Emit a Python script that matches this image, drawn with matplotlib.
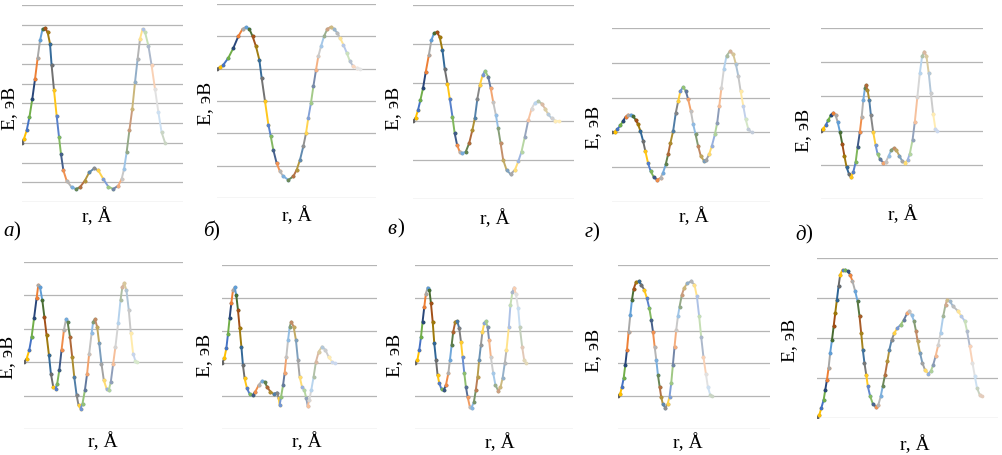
import numpy as np
import matplotlib
matplotlib.use('Agg')
import matplotlib.pyplot as plt
from matplotlib.colors import to_rgb

plt.rcParams['font.family'] = ['Liberation Serif', 'DejaVu Serif']

# energy profiles E(r), one per panel (r in A, E in eV)
r_a = [0, 0.12, 0.29, 0.46, 0.64, 0.81, 0.97, 1.12, 1.28, 1.43, 1.59, 1.74, 1.84, 1.99, 2.15, 2.30,
       2.42, 2.57, 2.77, 3.08, 3.35, 3.60, 3.91, 4.18, 4.49, 4.74, 5.05, 5.36, 5.67, 5.98, 6.19, 6.34,
       6.50, 6.67, 6.85, 7.02, 7.18, 7.33, 7.49, 7.64, 7.85, 8.05, 8.26, 8.47, 8.67, 8.88]
E_a = [0, 0.2, 0.63, 1.3, 2.23, 3.25, 4.3, 5.2, 5.79, 5.82, 5.62, 5.03, 3.93, 2.66, 1.39, 0.29,
       -0.56, -1.4, -1.91, -2.25, -2.34, -2.25, -1.91, -1.49, -1.29, -1.4, -1.83, -2.22, -2.34, -2.17, -1.83, -1.32,
       -0.47, 0.63, 1.73, 3.08, 4.26, 5.28, 5.79, 5.62, 4.94, 3.93, 2.74, 1.56, 0.54, 0.02]

r_b = [0, 0.19, 0.40, 0.71, 1.03, 1.34, 1.61, 1.82, 2.03, 2.24, 2.45, 2.66, 2.81, 3.02, 3.23, 3.38,
       3.54, 3.75, 3.96, 4.17, 4.49, 4.80, 5.01, 5.22, 5.43, 5.60, 5.74, 5.91, 6.06, 6.23, 6.37, 6.54,
       6.73, 6.94, 7.15, 7.36, 7.57, 7.74, 7.95, 8.16, 8.36, 8.57, 8.78, 8.99]
E_b = [0, 0.04, 0.12, 0.33, 0.64, 1.0, 1.23, 1.29, 1.23, 1.0, 0.69, 0.28, -0.29, -1.01, -1.73, -2.09,
       -2.51, -2.92, -3.18, -3.33, -3.44, -3.33, -3.13, -2.82, -2.40, -1.99, -1.53, -1.06, -0.55, -0.03, 0.38, 0.69,
       1.0, 1.23, 1.29, 1.23, 1.10, 0.95, 0.74, 0.49, 0.23, 0.07, 0.02, 0]

r_v = [0, 0.17, 0.31, 0.46, 0.62, 0.79, 0.98, 1.14, 1.31, 1.49, 1.66, 1.83, 1.97, 2.14, 2.28, 2.45,
       2.59, 2.74, 2.90, 3.07, 3.28, 3.49, 3.69, 3.84, 4.00, 4.15, 4.32, 4.48, 4.67, 4.83, 4.98, 5.15,
       5.29, 5.44, 5.60, 5.81, 6.06, 6.33, 6.54, 6.74, 6.95, 7.16, 7.37, 7.57, 7.78, 7.99, 8.20, 8.40,
       8.61, 8.82, 9.09]
E_v = [0, 0.10, 0.29, 0.55, 0.85, 1.27, 1.70, 2.09, 2.28, 2.30, 2.17, 1.83, 1.36, 0.97, 0.59, 0.12,
       -0.31, -0.61, -0.78, -0.82, -0.78, -0.56, -0.22, 0.08, 0.59, 0.93, 1.19, 1.30, 1.15, 0.85, 0.50, 0.16,
       -0.18, -0.56, -0.99, -1.25, -1.36, -1.25, -1.03, -0.78, -0.39, 0.03, 0.33, 0.48, 0.52, 0.46, 0.33, 0.18,
       0.08, 0.02, 0]

r_g = [0, 0.17, 0.34, 0.53, 0.70, 0.87, 1.01, 1.18, 1.33, 1.50, 1.65, 1.80, 1.97, 2.11, 2.28, 2.45,
       2.64, 2.85, 3.07, 3.23, 3.40, 3.55, 3.70, 3.87, 4.04, 4.19, 4.33, 4.50, 4.67, 4.82, 4.99, 5.14,
       5.29, 5.45, 5.62, 5.81, 5.98, 6.15, 6.32, 6.51, 6.66, 6.79, 6.93, 7.08, 7.25, 7.46, 7.67, 7.84,
       7.99, 8.14, 8.31, 8.46, 8.63, 8.84]
E_g = [0, 0.02, 0.09, 0.20, 0.33, 0.45, 0.51, 0.51, 0.47, 0.36, 0.23, 0.04, -0.25, -0.54, -0.88, -1.12,
       -1.28, -1.36, -1.31, -1.16, -0.92, -0.63, -0.30, 0.04, 0.57, 0.90, 1.19, 1.30, 1.19, 0.95, 0.62, 0.23,
       -0.06, -0.39, -0.68, -0.81, -0.78, -0.63, -0.39, -0.06, 0.28, 0.76, 1.29, 1.82, 2.20, 2.33, 2.25, 1.96,
       1.63, 1.19, 0.76, 0.38, 0.09, 0]

r_d = [0, 0.14, 0.29, 0.45, 0.60, 0.76, 0.90, 1.03, 1.17, 1.31, 1.44, 1.58, 1.72, 1.85, 1.99, 2.14,
       2.26, 2.40, 2.51, 2.61, 2.71, 2.77, 2.87, 2.98, 3.08, 3.22, 3.37, 3.49, 3.63, 3.84, 4.00, 4.19,
       4.35, 4.50, 4.66, 4.83, 5.01, 5.17, 5.34, 5.48, 5.65, 5.79, 5.95, 6.10, 6.24, 6.37, 6.51, 6.65,
       6.78, 6.92, 7.06, 7.17]
E_d = [0, 0.06, 0.16, 0.30, 0.45, 0.52, 0.45, 0.25, -0.04, -0.38, -0.73, -1.07, -1.26, -1.36, -1.22, -0.92,
       -0.48, -0.04, 0.40, 0.89, 1.24, 1.33, 1.19, 0.89, 0.45, -0.04, -0.43, -0.68, -0.82, -0.94, -0.92, -0.73,
       -0.56, -0.51, -0.58, -0.73, -0.89, -0.94, -0.87, -0.68, -0.28, 0.25, 0.99, 1.68, 2.17, 2.31, 2.17, 1.68,
       1.09, 0.50, 0.06, 0]

r_e = [0, 0.17, 0.33, 0.48, 0.63, 0.79, 0.90, 1.00, 1.15, 1.28, 1.42, 1.57, 1.69, 1.84, 1.99, 2.09,
       2.22, 2.36, 2.51, 2.64, 2.74, 2.89, 3.03, 3.16, 3.31, 3.43, 3.56, 3.68, 3.83, 3.97, 4.10, 4.25,
       4.35, 4.46, 4.60, 4.73, 4.87, 5.02, 5.19, 5.33, 5.46, 5.61, 5.75, 5.92, 6.07, 6.19, 6.30, 6.44,
       6.59, 6.72, 6.86, 7.01, 7.13]
E_e = [0, 0.11, 0.36, 0.76, 1.31, 1.91, 2.31, 2.26, 1.86, 1.36, 0.81, 0.21, -0.34, -0.74, -0.79, -0.64,
       -0.24, 0.36, 0.96, 1.28, 1.21, 0.76, 0.16, -0.44, -0.99, -1.29, -1.39, -1.24, -0.84, -0.34, 0.26, 0.86,
       1.21, 1.29, 1.06, 0.56, -0.04, -0.54, -0.79, -0.84, -0.59, -0.04, 0.46, 1.16, 1.86, 2.26, 2.36, 2.16,
       1.56, 0.86, 0.26, 0.03, 0]

r_zh = [0, 0.15, 0.28, 0.39, 0.49, 0.60, 0.71, 0.82, 0.92, 1.03, 1.14, 1.25, 1.35, 1.46, 1.61, 1.78,
        1.98, 2.15, 2.37, 2.58, 2.75, 2.90, 3.12, 3.33, 3.55, 3.66, 3.72, 3.81, 3.94, 4.04, 4.15, 4.26,
        4.37, 4.47, 4.62, 4.77, 4.90, 5.01, 5.16, 5.31, 5.44, 5.53, 5.63, 5.76, 5.91, 6.06, 6.24, 6.45,
        6.67, 6.88, 7.10, 7.27]
E_zh = [0, 0.15, 0.46, 0.91, 1.37, 1.83, 2.24, 2.32, 2.08, 1.63, 1.07, 0.51, -0.05, -0.46, -0.76, -0.93,
        -0.97, -0.86, -0.66, -0.53, -0.56, -0.71, -0.86, -0.93, -0.89, -1.07, -1.27, -1.02, -0.66, -0.30, 0.20, 0.71,
        1.12, 1.27, 1.12, 0.71, 0.10, -0.41, -0.71, -0.81, -1.07, -1.30, -1.12, -0.81, -0.41, 0.05, 0.36, 0.51,
        0.41, 0.20, 0.05, 0]

r_z = [0, 0.15, 0.27, 0.38, 0.48, 0.59, 0.69, 0.80, 0.91, 1.01, 1.12, 1.22, 1.33, 1.43, 1.54, 1.68,
       1.83, 1.96, 2.11, 2.21, 2.32, 2.42, 2.55, 2.67, 2.80, 2.91, 3.01, 3.12, 3.22, 3.33, 3.47, 3.58,
       3.73, 3.85, 3.96, 4.06, 4.17, 4.27, 4.38, 4.48, 4.59, 4.69, 4.80, 4.95, 5.09, 5.26, 5.41, 5.54,
       5.68, 5.79, 5.94, 6.04, 6.17, 6.27, 6.38, 6.53, 6.63, 6.78, 6.91, 7.05]
E_z = [0, 0.10, 0.41, 0.81, 1.27, 1.73, 2.13, 2.31, 2.24, 1.83, 1.27, 0.61, 0.10, -0.36, -0.61, -0.79,
       -0.81, -0.66, -0.30, 0.10, 0.56, 0.97, 1.27, 1.29, 1.07, 0.66, 0.20, -0.30, -0.71, -1.02, -1.32, -1.35,
       -1.17, -0.81, -0.41, 0.10, 0.56, 0.97, 1.22, 1.29, 1.12, 0.71, 0.20, -0.30, -0.66, -0.83, -0.73, -0.46,
       0, 0.41, 1.12, 1.78, 2.18, 2.31, 2.13, 1.68, 1.12, 0.51, 0.10, 0]

r_i = [0, 0.15, 0.26, 0.37, 0.48, 0.59, 0.70, 0.81, 0.92, 1.03, 1.18, 1.36, 1.53, 1.73, 1.90, 2.06,
       2.19, 2.30, 2.41, 2.52, 2.63, 2.74, 2.84, 2.95, 3.11, 3.26, 3.39, 3.50, 3.61, 3.72, 3.83, 3.94,
       4.05, 4.20, 4.35, 4.57, 4.81, 5.03, 5.19, 5.34, 5.47, 5.62, 5.78, 5.91, 6.06, 6.21]
E_i = [0, 0.08, 0.29, 0.54, 0.95, 1.41, 1.97, 2.48, 2.94, 3.27, 3.47, 3.50, 3.40, 3.24, 2.99, 2.68,
       2.33, 1.97, 1.51, 1.10, 0.64, 0.29, -0.02, -0.24, -0.35, -0.24, -0.02, 0.39, 0.95, 1.51, 2.02, 2.43,
       2.73, 3.09, 3.30, 3.45, 3.50, 3.40, 3.04, 2.43, 1.82, 1.20, 0.69, 0.29, 0.05, 0]

r_k = [0, 0.13, 0.24, 0.37, 0.46, 0.55, 0.64, 0.73, 0.83, 0.92, 1.01, 1.10, 1.19, 1.28, 1.41, 1.56,
       1.71, 1.83, 1.96, 2.11, 2.24, 2.35, 2.44, 2.53, 2.62, 2.72, 2.81, 2.94, 3.08, 3.25, 3.39, 3.52,
       3.63, 3.76, 3.89, 4.00, 4.13, 4.28, 4.44, 4.62, 4.81, 4.99, 5.10, 5.23, 5.36, 5.47, 5.56, 5.69,
       5.82, 5.96, 6.15, 6.29, 6.42, 6.55, 6.70, 6.83, 6.97, 7.10, 7.19, 7.34, 7.52, 7.80, 7.98, 8.17,
       8.29, 8.44, 8.59, 8.72, 8.84, 8.99, 9.12]
E_k = [0, 0.08, 0.25, 0.46, 0.71, 0.96, 1.25, 1.63, 1.96, 2.29, 2.63, 2.96, 3.29, 3.58, 3.71, 3.71,
       3.67, 3.58, 3.42, 3.17, 2.92, 2.54, 2.13, 1.71, 1.38, 1.08, 0.79, 0.54, 0.36, 0.28, 0.33, 0.54,
       0.79, 1.08, 1.42, 1.71, 1.96, 2.13, 2.25, 2.33, 2.46, 2.63, 2.67, 2.58, 2.42, 2.17, 1.92, 1.63,
       1.38, 1.21, 1.11, 1.17, 1.33, 1.54, 1.83, 2.13, 2.54, 2.83, 2.96, 2.92, 2.79, 2.67, 2.54, 2.42,
       2.17, 1.79, 1.38, 1.04, 0.75, 0.58, 0.54]

curves = [(r_a, E_a), (r_b, E_b), (r_v, E_v), (r_g, E_g), (r_d, E_d),
          (r_e, E_e), (r_zh, E_zh), (r_z, E_z), (r_i, E_i), (r_k, E_k)]
ylims = [(-3, 7), (-4, 2), (-2, 3), (-2, 3), (-2, 3),
         (-2, 3), (-2, 3), (-2, 3), (-1, 4), (0, 4)]
letters = ['а', 'б', 'в', 'г', 'д']

W, H = 1003, 455
# axes boxes in pixels: left, right, top, bottom
boxes = [(22, 183, 5, 202), (217, 376, 4, 198), (413, 574, 5, 199), (612, 770, 28, 202), (821, 983, 28, 199),
         (24, 183, 262, 429), (222, 377, 265, 429), (415, 573, 265, 429), (618, 770, 265, 429), (817, 998, 258, 418)]
e_pos = [(10, 108), (206, 103), (394, 108), (594, 127), (804, 130),
         (8, 357), (205, 355), (395, 355), (594, 350), (790, 340)]
r_pos = [(97, 217), (297, 216), (495, 219), (694, 217), (903, 215),
         (103, 442), (307, 442), (500, 443), (688, 443), (915, 445)]
let_pos = [(3, 232), (203, 232), (387, 229), (585, 233), (795, 235)]
paren_dx = [10, 9, 10, 7, 10]

cycle = ['#636363', '#FFC000', '#4472C4', '#70AD47', '#264478', '#ED7D31',
         '#A5A5A5', '#5B9BD5', '#43682B', '#9E480E', '#997300', '#255E91']


def seg_color(i, n):
    c = np.array(to_rgb(cycle[i % len(cycle)]))
    t = (i / max(n - 1, 1)) ** 1.6 * 0.72
    return tuple(c + (1 - c) * t)


fig = plt.figure(figsize=(W / 100, H / 100), dpi=100)

for k, (r, E) in enumerate(curves):
    l, rr, t, b = boxes[k]
    ax = fig.add_axes([l / W, 1 - b / H, (rr - l) / W, (b - t) / H])
    n = len(r) - 1
    for i in range(n):
        col = seg_color(i, n)
        ax.plot(r[i:i + 2], E[i:i + 2], color=col, lw=1.4, solid_capstyle='round',
                marker='o', ms=1.7, mec=col, mfc=col, zorder=3)
    y0, y1 = ylims[k]
    for y in range(y0, y1 + 1):
        ax.axhline(y, color='#b5b5b5', lw=0.9, zorder=1)
    ax.set_xlim(0, 10)
    ax.set_ylim(y0, y1)
    ax.axis('off')

    fig.text(e_pos[k][0] / W, 1 - e_pos[k][1] / H, 'E, эВ', rotation=90,
             ha='center', va='center', fontsize=14)
    fig.text(r_pos[k][0] / W, 1 - r_pos[k][1] / H, 'r, Å', ha='center', va='center', fontsize=14)
    if k < 5:
        fig.text(let_pos[k][0] / W, 1 - let_pos[k][1] / H, letters[k], ha='left', va='center',
                 fontsize=15, style='italic')
        fig.text((let_pos[k][0] + paren_dx[k]) / W, 1 - let_pos[k][1] / H, ')', ha='left',
                 va='center', fontsize=15)

fig.savefig('out.png', dpi=100)
